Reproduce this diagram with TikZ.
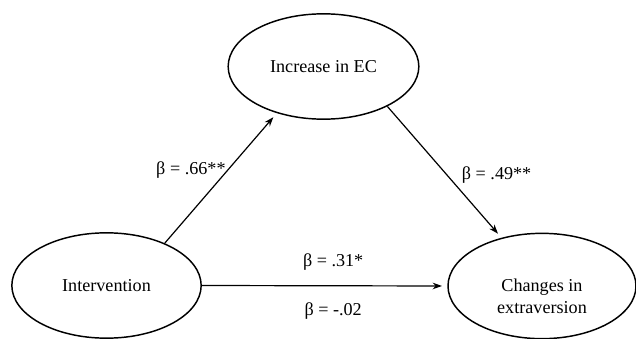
\documentclass[tikz,border=0pt]{standalone}
\usepackage{fontspec}
\setmainfont{Liberation Serif}
\usepackage{tikz}
\usetikzlibrary{arrows.meta, positioning, shapes.geometric}

\begin{document}
\begin{tikzpicture}[
      x=0.75pt, y=-0.75pt,
      font=\fontsize{13.6}{16.5}\selectfont,
      var/.style={draw, ellipse, line width=1.1pt, minimum width=#1,
                  minimum height=79pt, inner sep=0pt},
      var/.default=143pt,
      arr/.style={-{Stealth[length=7pt, width=5pt]}, line width=0.9pt,
                  shorten >=4pt},
      coef/.style={inner sep=1pt}
  ]
    \useasboundingbox (0,0) rectangle (636,339);

    \node[var]        (ec)  at (323.5,66.5) {Increase in EC};
    \node[var=142pt]  (int) at (106.5,285.5) {Intervention};
    \node[var=141pt, label={[yshift=-7.5pt, align=center]center:Changes in\\extraversion}]
                      (ext) at (542,286) {};

    \draw[arr] (int.36.9) -- node[coef, pos=0.56, left] {β = .66**} (ec.225.6);
    \draw[arr] (ec.-32.1) -- node[coef, pos=0.52, right=10pt] {β = .49**} (ext.130.3);

    % direct and indirect effect
    \draw[arr] (int.east) -- node[coef, pos=0.535, above=10pt] {β = .31*}
      node[coef, pos=0.535, below=11pt] {β = -.02} (ext.west);
  \end{tikzpicture}
\end{document}
